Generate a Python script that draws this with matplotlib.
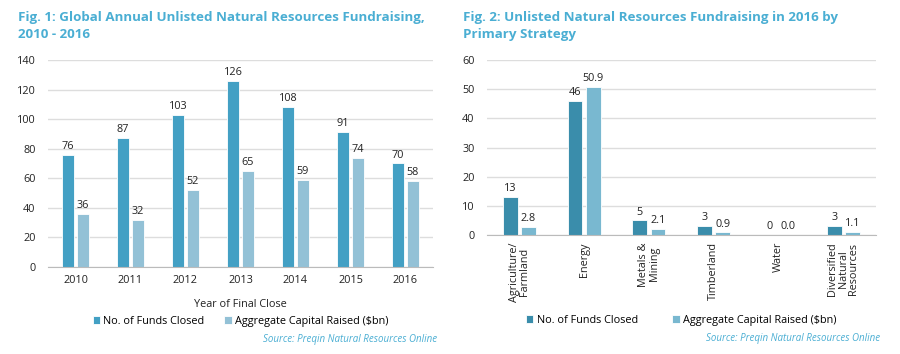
import numpy as np
import matplotlib.pyplot as plt

plt.rcParams['font.family'] = ['Open Sans', 'DejaVu Sans']

years = ['2010', '2011', '2012', '2013', '2014', '2015', '2016']
funds_closed = [76, 87, 103, 126, 108, 91, 70]
capital_raised = [36, 32, 52, 65, 59, 74, 58]

strategies = ['Agriculture/\nFarmland', 'Energy', 'Metals &\nMining', 'Timberland', 'Water',
              'Diversified\nNatural\nResources']
strat_funds = [13, 46, 5, 3, 0, 3]
strat_capital = [2.8, 50.9, 2.1, 0.9, 0.0, 1.1]

title_col = '#4AAED3'
grid_col = '#DDDDDD'
txt_col = '#222222'

fig = plt.figure(figsize=(9, 3.54), dpi=100)


def style_axes(ax):
    for s in ['top', 'right', 'left']:
        ax.spines[s].set_visible(False)
    ax.spines['bottom'].set_color('#BBBBBB')
    ax.grid(axis='y', color=grid_col, linewidth=1)
    ax.set_axisbelow(True)
    ax.tick_params(axis='both', length=0, labelsize=7.8, colors=txt_col)


# Fig 1
ax1 = fig.add_axes([0.0533, 0.2458, 0.4278, 0.5847])
x = np.arange(len(years))
w = 0.22
c1, c2 = '#43A0C4', '#93C1D6'
b1 = ax1.bar(x - 0.135, funds_closed, w, color=c1, edgecolor='white', linewidth=0.6)
b2 = ax1.bar(x + 0.135, capital_raised, w, color=c2, edgecolor='white', linewidth=0.6)
for rect, v in zip(b1, funds_closed):
    ax1.text(rect.get_x() + rect.get_width() / 2, v + 2, str(v), ha='center', va='bottom',
             fontsize=7.8, color=txt_col)
for rect, v in zip(b2, capital_raised):
    ax1.text(rect.get_x() + rect.get_width() / 2, v + 2, str(v), ha='center', va='bottom',
             fontsize=7.8, color=txt_col)
ax1.set_xlim(-0.5, len(years) - 0.5)
ax1.set_ylim(0, 140)
ax1.set_yticks(range(0, 141, 20))
ax1.set_xticks(x)
ax1.set_xticklabels(years)
ax1.tick_params(axis='x', pad=6)
ax1.tick_params(axis='y', pad=9)
style_axes(ax1)
ax1.set_xlabel('Year of Final Close', fontsize=7.8, color=txt_col, labelpad=9)
ax1.legend([b1, b2], ['No. of Funds Closed', 'Aggregate Capital Raised ($bn)'],
           loc='upper center', bbox_to_anchor=(0.5, -0.215), ncol=2, frameon=False,
           fontsize=7.8, handlelength=0.7, handleheight=0.7, handletextpad=0.3,
           columnspacing=1.8, borderaxespad=0)
fig.text(0.02, 0.968, 'Fig. 1: Global Annual Unlisted Natural Resources Fundraising,\n2010 - 2016',
         color=title_col, fontsize=9.6, fontweight='bold', va='top', ha='left', linespacing=1.35)
fig.text(0.486, 0.04, 'Source: Preqin Natural Resources Online', color=title_col,
         fontsize=7, style='italic', ha='right', va='center')

# Fig 2
ax2 = fig.add_axes([0.541, 0.336, 0.432, 0.4944])
x2 = np.arange(len(strategies))
w2 = 0.23
d1, d2 = '#3A8DAB', '#79B8D0'
s1 = ax2.bar(x2 - 0.14, strat_funds, w2, color=d1, edgecolor='white', linewidth=0.6)
s2 = ax2.bar(x2 + 0.14, strat_capital, w2, color=d2, edgecolor='white', linewidth=0.6)
for rect, v in zip(s1, strat_funds):
    ax2.text(rect.get_x() + rect.get_width() / 2, v + 1, str(v), ha='center', va='bottom',
             fontsize=7.8, color=txt_col)
for rect, v in zip(s2, strat_capital):
    ax2.text(rect.get_x() + rect.get_width() / 2, v + 1, '%.1f' % v, ha='center', va='bottom',
             fontsize=7.8, color=txt_col)
ax2.set_xlim(-0.5, len(strategies) - 0.5)
ax2.set_ylim(0, 60)
ax2.set_yticks(range(0, 61, 10))
ax2.set_xticks(x2)
ax2.set_xticklabels(strategies, rotation=90, va='top', ha='center', linespacing=0.95)
ax2.tick_params(axis='x', pad=5)
ax2.tick_params(axis='y', pad=9)
style_axes(ax2)
ax2.legend([s1, s2], ['No. of Funds Closed', 'Aggregate Capital Raised ($bn)'],
           loc='upper center', bbox_to_anchor=(0.5, -0.43), ncol=2, frameon=False,
           fontsize=7.8, handlelength=0.7, handleheight=0.7, handletextpad=0.3,
           columnspacing=3.2, borderaxespad=0)
fig.text(0.514, 0.968, 'Fig. 2: Unlisted Natural Resources Fundraising in 2016 by\nPrimary Strategy',
         color=title_col, fontsize=9.6, fontweight='bold', va='top', ha='left', linespacing=1.35)
fig.text(0.978, 0.045, 'Source: Preqin Natural Resources Online', color=title_col,
         fontsize=7, style='italic', ha='right', va='center')

fig.savefig('out.png', dpi=100, facecolor='white')
